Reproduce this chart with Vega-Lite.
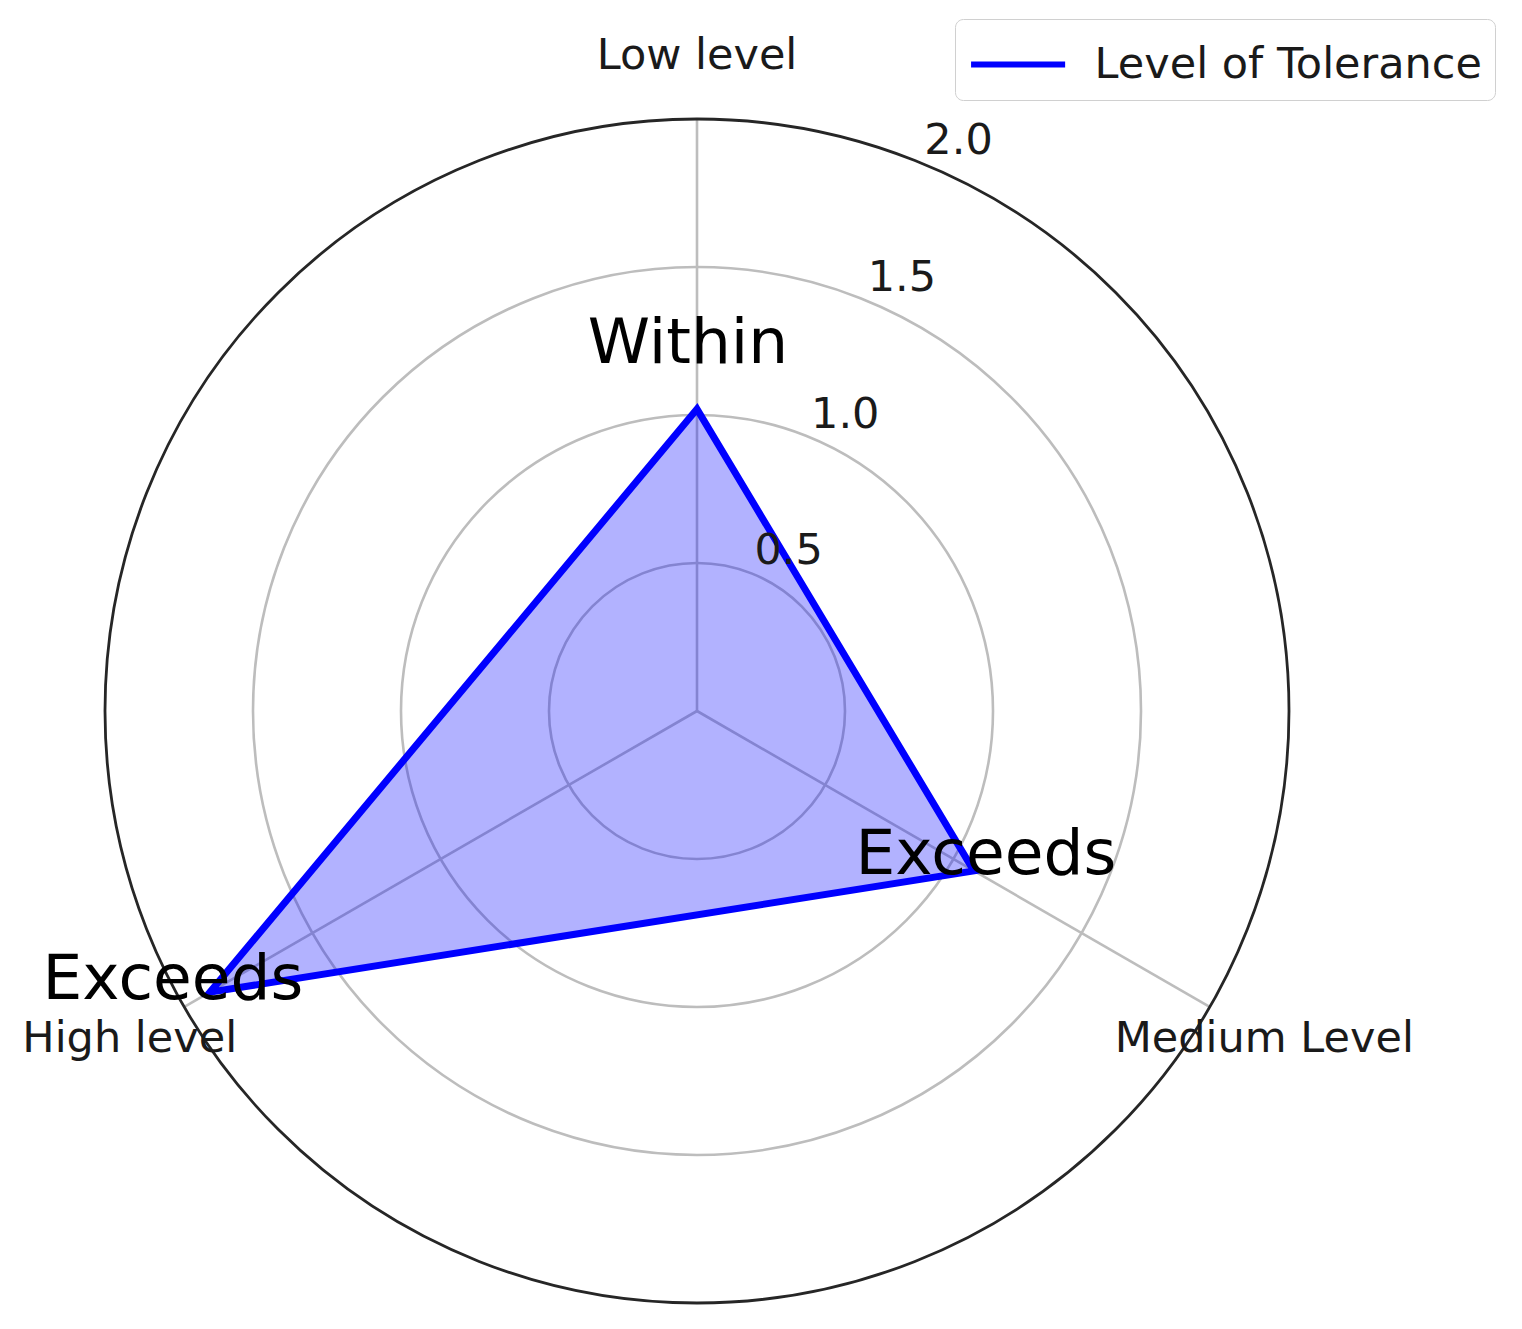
{
  "$schema": "https://vega.github.io/schema/vega-lite/v6.json",
  "width": 1390,
  "height": 1390,
  "padding": {"left": 2, "top": 16, "right": 130, "bottom": 0},
  "autosize": {"type": "none"},
  "background": "white",
  "config": {"view": {"stroke": null}, "font": "DejaVu Sans"},
  "datasets": {
    "radar": [
      {"k": 0, "axis": "Low level", "status": "Within", "value": 1.02},
      {"k": 1, "axis": "Medium Level", "status": "Exceeds", "value": 1.08},
      {"k": 2, "axis": "High level", "status": "Exceeds", "value": 1.9}
    ],
    "rings": [{"r": 0.5}, {"r": 1.0}, {"r": 1.5}, {"r": 2.0}]
  },
  "layer": [
    {
      "data": {"name": "rings"},
      "transform": [{"filter": "datum.r < 2"}],
      "mark": {"type": "arc", "theta": 6.2832, "filled": false, "stroke": "#bdbdbd", "strokeWidth": 2.6},
      "encoding": {
        "radius": {"field": "r", "type": "quantitative", "stack": null, "scale": {"type": "linear", "domain": [0, 2], "range": [0, 592], "zero": true, "nice": false}}
      }
    },
    {
      "data": {"name": "radar"},
      "transform": [
        {"calculate": "PI/2 - datum.k*2*PI/3", "as": "theta"},
        {"calculate": "0", "as": "ox"},
        {"calculate": "2*cos(datum.theta)", "as": "ex"},
        {"calculate": "2*sin(datum.theta)", "as": "ey"}
      ],
      "mark": {"type": "rule", "stroke": "#bdbdbd", "strokeWidth": 2.6},
      "encoding": {
        "x": {"field": "ox", "type": "quantitative", "scale": {"domain": [-2.348, 2.348], "nice": false, "zero": false}, "axis": null},
        "y": {"field": "ox", "type": "quantitative", "scale": {"domain": [-2.348, 2.348], "nice": false, "zero": false}, "axis": null},
        "x2": {"field": "ex"},
        "y2": {"field": "ey"}
      }
    },
    {
      "data": {"name": "rings"},
      "transform": [{"filter": "datum.r == 2"}],
      "mark": {"type": "arc", "theta": 6.2832, "filled": false, "stroke": "#262626", "strokeWidth": 2.8},
      "encoding": {
        "radius": {"field": "r", "type": "quantitative", "stack": null, "scale": {"type": "linear", "domain": [0, 2], "range": [0, 592], "zero": true, "nice": false}}
      }
    },
    {
      "data": {"name": "radar"},
      "transform": [
        {"calculate": "PI/2 - datum.k*2*PI/3", "as": "theta"},
        {"calculate": "datum.value*cos(datum.theta)", "as": "px"},
        {"calculate": "datum.value*sin(datum.theta)", "as": "py"}
      ],
      "mark": {"type": "line", "interpolate": "linear-closed", "fill": "#0000ff", "fillOpacity": 0.3, "strokeWidth": 7, "strokeJoin": "miter"},
      "encoding": {
        "x": {"field": "px", "type": "quantitative", "scale": {"domain": [-2.348, 2.348], "nice": false, "zero": false}, "axis": null},
        "y": {"field": "py", "type": "quantitative", "scale": {"domain": [-2.348, 2.348], "nice": false, "zero": false}, "axis": null},
        "order": {"field": "k", "type": "quantitative"},
        "stroke": {
          "datum": "Level of Tolerance",
          "type": "nominal",
          "scale": {"range": ["#0000ff"]},
          "legend": {
            "title": null,
            "orient": "none",
            "legendX": 953,
            "legendY": 3,
            "symbolType": "M-1.6,0H1.6",
            "symbolStrokeWidth": 6,
            "symbolSize": 3456,
            "symbolOffset": 17.6,
            "labelFontSize": 43,
            "labelFont": "DejaVu Sans",
            "labelColor": "#1a1a1a",
            "labelOffset": 44,
            "labelLimit": 0,
            "padding": 13,
            "strokeColor": "#d0d0d0",
            "fillColor": "white",
            "cornerRadius": 8
          }
        }
      }
    },
    {
      "data": {"name": "rings"},
      "transform": [
        {"calculate": "datum.r*cos(PI*3/8)", "as": "tx"},
        {"calculate": "datum.r*sin(PI*3/8)", "as": "ty"}
      ],
      "mark": {"type": "text", "fontSize": 43, "font": "DejaVu Sans", "color": "#1a1a1a", "align": "center", "baseline": "middle", "dx": 35, "dy": -23},
      "encoding": {
        "x": {"field": "tx", "type": "quantitative", "scale": {"domain": [-2.348, 2.348], "nice": false, "zero": false}, "axis": null},
        "y": {"field": "ty", "type": "quantitative", "scale": {"domain": [-2.348, 2.348], "nice": false, "zero": false}, "axis": null},
        "text": {"field": "r", "type": "quantitative", "format": ".1f"}
      }
    },
    {
      "data": {"name": "radar"},
      "transform": [
        {"calculate": "PI/2 - datum.k*2*PI/3", "as": "theta"},
        {"calculate": "2.213*cos(datum.theta)", "as": "lx"},
        {"calculate": "2.213*sin(datum.theta)", "as": "ly"}
      ],
      "mark": {"type": "text", "fontSize": 43, "font": "DejaVu Sans", "color": "#1a1a1a", "align": "center", "baseline": "middle"},
      "encoding": {
        "x": {"field": "lx", "type": "quantitative", "scale": {"domain": [-2.348, 2.348], "nice": false, "zero": false}, "axis": null},
        "y": {"field": "ly", "type": "quantitative", "scale": {"domain": [-2.348, 2.348], "nice": false, "zero": false}, "axis": null},
        "text": {"field": "axis", "type": "nominal"}
      }
    },
    {
      "data": {"name": "radar"},
      "transform": [
        {"filter": "datum.k == 0"},
        {"calculate": "PI/2 - datum.k*2*PI/3", "as": "theta"},
        {"calculate": "datum.value*cos(datum.theta)", "as": "px"},
        {"calculate": "datum.value*sin(datum.theta)", "as": "py"}
      ],
      "mark": {"type": "text", "fontSize": 63, "font": "DejaVu Sans", "color": "black", "align": "center", "baseline": "alphabetic", "dx": -9, "dy": -46},
      "encoding": {
        "x": {"field": "px", "type": "quantitative", "scale": {"domain": [-2.348, 2.348], "nice": false, "zero": false}, "axis": null},
        "y": {"field": "py", "type": "quantitative", "scale": {"domain": [-2.348, 2.348], "nice": false, "zero": false}, "axis": null},
        "text": {"field": "status", "type": "nominal"}
      }
    },
    {
      "data": {"name": "radar"},
      "transform": [
        {"filter": "datum.k == 1"},
        {"calculate": "PI/2 - datum.k*2*PI/3", "as": "theta"},
        {"calculate": "datum.value*cos(datum.theta)", "as": "px"},
        {"calculate": "datum.value*sin(datum.theta)", "as": "py"}
      ],
      "mark": {"type": "text", "fontSize": 63, "font": "DejaVu Sans", "color": "black", "align": "center", "baseline": "alphabetic", "dx": 12, "dy": 3},
      "encoding": {
        "x": {"field": "px", "type": "quantitative", "scale": {"domain": [-2.348, 2.348], "nice": false, "zero": false}, "axis": null},
        "y": {"field": "py", "type": "quantitative", "scale": {"domain": [-2.348, 2.348], "nice": false, "zero": false}, "axis": null},
        "text": {"field": "status", "type": "nominal"}
      }
    },
    {
      "data": {"name": "radar"},
      "transform": [
        {"filter": "datum.k == 2"},
        {"calculate": "PI/2 - datum.k*2*PI/3", "as": "theta"},
        {"calculate": "datum.value*cos(datum.theta)", "as": "px"},
        {"calculate": "datum.value*sin(datum.theta)", "as": "py"}
      ],
      "mark": {"type": "text", "fontSize": 63, "font": "DejaVu Sans", "color": "black", "align": "center", "baseline": "alphabetic", "dx": -37, "dy": 7},
      "encoding": {
        "x": {"field": "px", "type": "quantitative", "scale": {"domain": [-2.348, 2.348], "nice": false, "zero": false}, "axis": null},
        "y": {"field": "py", "type": "quantitative", "scale": {"domain": [-2.348, 2.348], "nice": false, "zero": false}, "axis": null},
        "text": {"field": "status", "type": "nominal"}
      }
    }
  ]
}
